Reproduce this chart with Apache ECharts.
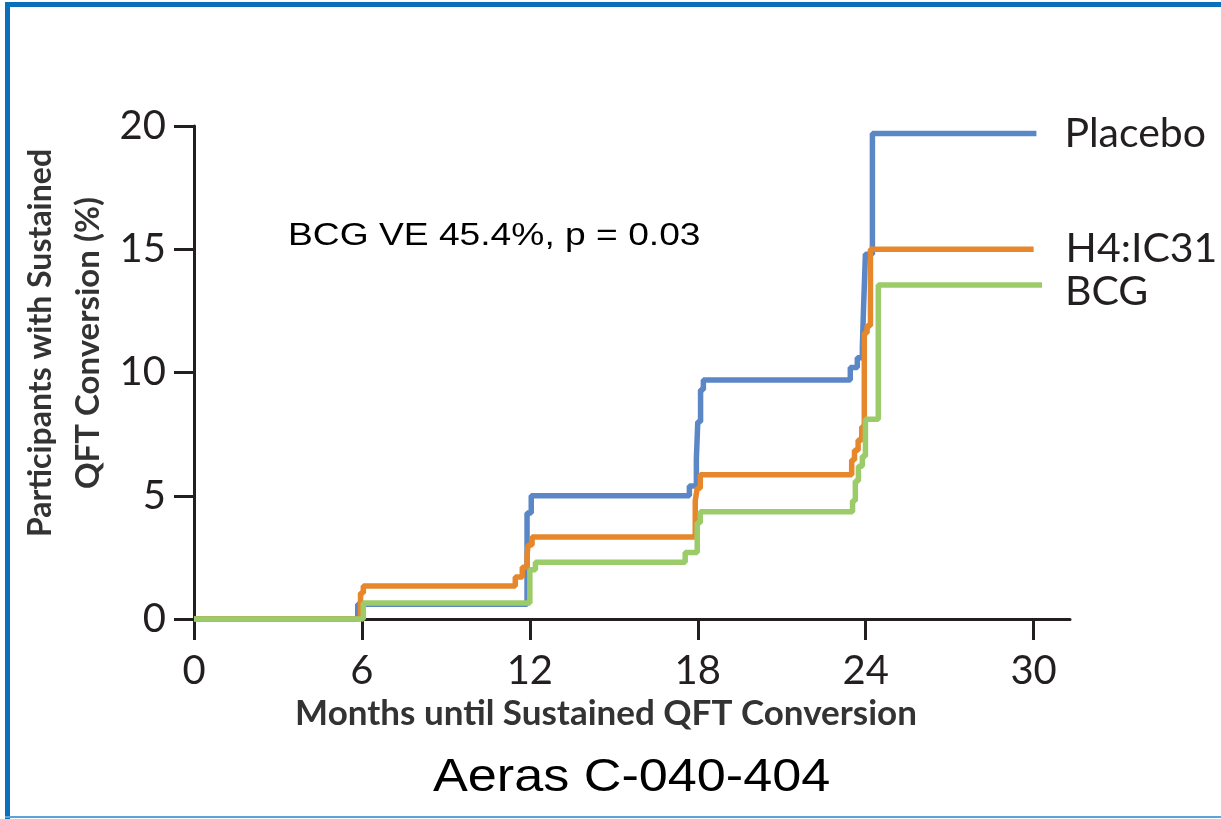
<!DOCTYPE html>
<html><head><meta charset="utf-8">
<script src="https://cdn.jsdelivr.net/npm/echarts@6/dist/echarts.min.js"></script>
<style>html,body{margin:0;padding:0;background:#fff}#c{width:1221px;height:819px}</style>
</head><body><div id="c"></div>
<script>
const seriesNames = ['Placebo', 'H4:IC31', 'BCG'];
const xTicks = [0, 6, 12, 18, 24, 30];
const yTicks = [0, 5, 10, 15, 20];
const xAxisTitle = 'Months until Sustained QFT Conversion';
const yAxisTitle1 = 'Participants with Sustained';
const yAxisTitle2 = 'QFT Conversion (%)';
const annotation = 'BCG VE 45.4%, p = 0.03';
const chartTitle = 'Aeras C-040-404';
// [month, cumulative %] step points
const placebo = [[0,0],[5.85,0.6],[11.9,4.3],[12.05,5.0],[17.7,5.4],[17.95,6.5],[18.0,8.0],[18.1,9.3],[18.2,9.7],[23.45,10.2],[23.7,10.6],[23.88,11.0],[23.92,12.5],[23.99,14.8],[24.24,19.7],[30.1,19.7]];
const h4ic31 = [[0,0],[5.95,1.05],[6.05,1.34],[11.48,1.7],[11.73,2.1],[11.9,2.6],[11.94,3.0],[12.08,3.33],[17.91,4.8],[17.98,5.3],[18.09,5.85],[23.5,6.45],[23.6,6.85],[23.73,7.26],[23.86,7.8],[23.95,11.6],[24.05,11.9],[24.17,15.0],[30.0,15.0]];
const bcg = [[0,0],[6.05,0.65],[12.0,2.0],[12.2,2.3],[17.55,2.7],[17.98,3.9],[18.09,4.35],[23.53,4.8],[23.63,5.6],[23.74,6.2],[23.88,6.6],[23.99,8.1],[24.45,13.55],[30.3,13.55]];

const seriesData = [placebo, h4ic31, bcg];
const colors = ['#5B87C6', '#E6872B', '#9CCB6A'];
const labelDist = [28, 32, 23];
const labelOff = [[0,0],[0,0],[0,7]];
const txt = '#231f20';
const font = 'Lato';

const chart = echarts.init(document.getElementById('c'));
chart.setOption({
  animation: false,
  backgroundColor: '#fff',
  grid: { left: 194, right: 151, top: 126, bottom: 200, containLabel: false, outerBoundsMode: 'none' },
  xAxis: {
    type: 'value', min: 0, max: 31.3,
    name: xAxisTitle, nameLocation: 'middle', nameGap: 69,
    nameTextStyle: { fontFamily: font, fontWeight: 'bold', fontSize: 35, color: '#333', padding: [0, 52, 0, 0] },
    axisLine: { show: true, lineStyle: { color: txt, width: 3 } },
    axisTick: { show: true, length: 21, lineStyle: { color: txt, width: 3 }, customValues: xTicks },
    axisLabel: { customValues: xTicks, fontFamily: font, fontSize: 40, color: txt, margin: 32 },
    splitLine: { show: false }
  },
  yAxis: {
    type: 'value', min: 0, max: 20, interval: 5,
    axisLine: { show: true, lineStyle: { color: txt, width: 3 } },
    axisTick: { show: true, length: 20, lineStyle: { color: txt, width: 3 } },
    axisLabel: { fontFamily: font, fontSize: 40, color: txt, margin: 28 },
    splitLine: { show: false }
  },
  series: seriesNames.map((n, i) => ({
    name: n, type: 'line', step: 'end', data: seriesData[i],
    showSymbol: false, symbol: 'none', z: 2 + i,
    lineStyle: { color: colors[i], width: 5.5 },
    itemStyle: { color: colors[i] },
    endLabel: { show: true, formatter: '{a}', distance: labelDist[i], offset: labelOff[i],
      fontFamily: font, fontSize: 41, color: txt }
  })),
  graphic: [
    { type: 'rect', shape: { x: 5, y: 2, width: 5, height: 817 }, style: { fill: '#0B6FBA' }, z: 100 },
    { type: 'rect', shape: { x: 5, y: 2, width: 1216, height: 5 }, style: { fill: '#0B6FBA' }, z: 100 },
    { type: 'rect', shape: { x: 5, y: 816, width: 1216, height: 2 }, style: { fill: '#5BA3D9' }, z: 100 },
    { type: 'text', x: 41, y: 343, rotation: Math.PI / 2,
      style: { text: yAxisTitle1, align: 'center', verticalAlign: 'middle', fontFamily: font, fontWeight: 'bold', fontSize: 32, fill: '#333' } },
    { type: 'text', x: 88, y: 343, rotation: Math.PI / 2,
      style: { text: yAxisTitle2, align: 'center', verticalAlign: 'middle', fontFamily: font, fontWeight: 'bold', fontSize: 33, fill: '#333' } },
    { type: 'text', x: 288, y: 236, scaleX: 1.2,
      style: { text: annotation, align: 'left', verticalAlign: 'middle', fontFamily: 'Liberation Sans', fontSize: 31, fill: '#000' } },
    { type: 'text', x: 433, y: 778, scaleX: 1.11,
      style: { text: chartTitle, align: 'left', verticalAlign: 'middle', fontFamily: 'Liberation Sans', fontSize: 47, fill: '#000' } }
  ]
});
</script>
</body></html>
